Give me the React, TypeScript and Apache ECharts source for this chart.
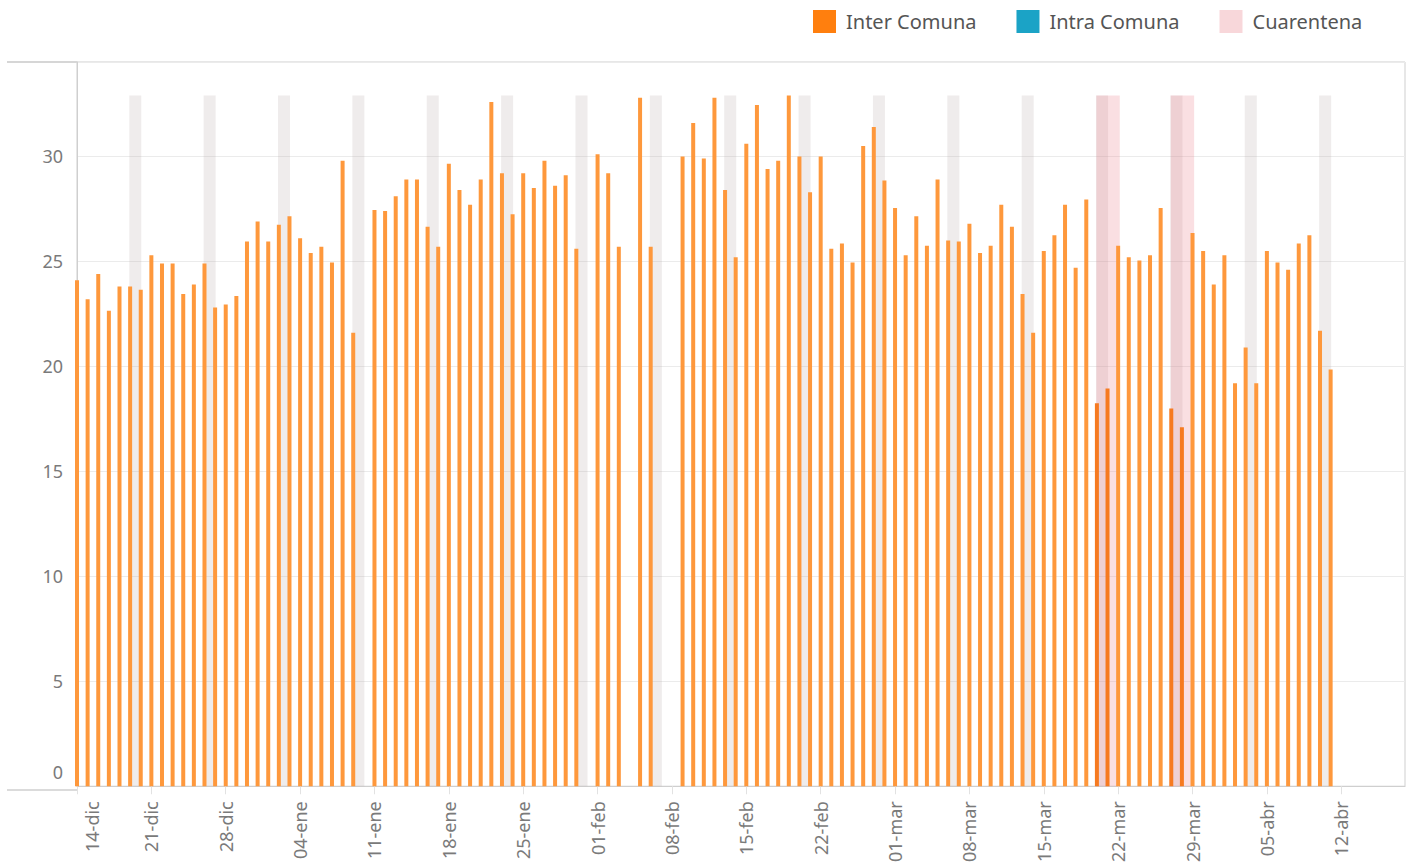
import React, { useEffect, useRef } from 'react';
import * as echarts from 'echarts';

// Week tick labels (every 7 days starting 14-dic, day index 0)
const tickLabels = ['14-dic', '21-dic', '28-dic', '04-ene', '11-ene', '18-ene', '25-ene', '01-feb', '08-feb', '15-feb', '22-feb', '01-mar', '08-mar', '15-mar', '22-mar', '29-mar', '05-abr', '12-abr'];

// Inter Comuna daily values, day index 0 = 14-dic (null = no data)
const interComuna: (number | null)[] = [
  24.1, 23.2, 24.4, 22.65, 23.8, 23.8, 23.65,
  25.3, 24.9, 24.9, 23.45, 23.9, 24.9, 22.8,
  22.95, 23.35, 25.95, 26.9, 25.95, 26.75, 27.15,
  26.1, 25.4, 25.7, 24.95, 29.8, 21.6, null,
  27.45, 27.4, 28.1, 28.9, 28.9, 26.65, 25.7,
  29.65, 28.4, 27.7, 28.9, 32.6, 29.2, 27.25,
  29.2, 28.5, 29.8, 28.6, 29.1, 25.6, null,
  30.1, 29.2, 25.7, null, 32.8, 25.7, null,
  null, 30.0, 31.6, 29.9, 32.8, 28.4, 25.2,
  30.6, 32.45, 29.4, 29.8, 32.9, 30.0, 28.3,
  30.0, 25.6, 25.85, 24.95, 30.5, 31.4, 28.85,
  27.55, 25.3, 27.15, 25.75, 28.9, 26.0, 25.95,
  26.8, 25.4, 25.75, 27.7, 26.65, 23.45, 21.6,
  25.5, 26.25, 27.7, 24.7, 27.95, 18.25, 18.95,
  25.75, 25.2, 25.05, 25.3, 27.55, 18.0, 17.1,
  26.35, 25.5, 23.9, 25.3, 19.2, 20.9, 19.2,
  25.5, 24.95, 24.6, 25.85, 26.25, 21.7, 19.85,
];

// Intra Comuna (no visible values)
const intraComuna: [number, number][] = [];

// Saturday day indices (weekend bands)
const weekendSaturdays = [5, 12, 19, 26, 33, 40, 47, 54, 61, 68, 75, 82, 89, 96, 103, 110, 117];

// Saturday day indices of quarantine weekends
const cuarentenaSaturdays = [96, 103];

const FONT = "'Noto Sans', sans-serif";
const LABEL_COLOR = '#7a7a7a';

export default function App() {
  const ref = useRef<HTMLDivElement>(null);

  useEffect(() => {
    if (!ref.current) return;
    const chart = echarts.init(ref.current, null, { renderer: 'svg' });

    const bandTop = Math.max(...(interComuna.filter((v) => v != null) as number[]));
    const inCuarentena = (i: number) => cuarentenaSaturdays.some((s) => i >= s && i <= s + 1);

    const barData = interComuna
      .map((v, i) => (v == null ? null : {
        value: [i, v],
        itemStyle: { color: inCuarentena(i) ? '#f67a20' : '#fe983c' },
      }))
      .filter((d) => d !== null);

    const weekendData = weekendSaturdays.map((s) => [s - 0.08, s + 1.05, bandTop]);
    const cuarentenaData = cuarentenaSaturdays.map((s) => [s - 0.05, s + 2.15, bandTop]);

    const bandRender = (fill: string) => (params: any, api: any) => {
      const a = api.coord([api.value(0), api.value(2)]);
      const b = api.coord([api.value(1), 0]);
      return {
        type: 'rect',
        shape: { x: a[0], y: a[1], width: b[0] - a[0], height: b[1] - a[1] },
        style: { fill },
      };
    };

    chart.setOption({
      animation: false,
      textStyle: { fontFamily: FONT },
      legend: {
        left: 813,
        top: 10,
        padding: 0,
        itemWidth: 23,
        itemHeight: 23,
        itemGap: 40,
        icon: 'rect',
        textStyle: { fontSize: 20, color: '#555', fontFamily: FONT, padding: [0, 0, 0, 5] },
        data: [
          { name: 'Inter Comuna', itemStyle: { color: '#ff7f0e' } },
          { name: 'Intra Comuna', itemStyle: { color: '#1ba3c6' } },
          { name: 'Cuarentena', itemStyle: { color: '#f8d7da' } },
        ],
        selectedMode: false,
      },
      grid: {
        left: 77,
        right: 5,
        top: 62,
        bottom: 75,
        show: true,
        borderColor: '#cfcfcf',
        borderWidth: 1,
      },
      xAxis: {
        type: 'value',
        min: 0,
        max: 125,
        interval: 7,
        axisLine: { show: true, lineStyle: { color: '#cfcfcf' } },
        axisTick: { show: true, length: 8, lineStyle: { color: '#e2e2e2' } },
        splitLine: { show: false },
        axisLabel: {
          rotate: 90,
          margin: 15,
          fontSize: 18,
          color: LABEL_COLOR,
          fontFamily: FONT,
          showMaxLabel: false,
          formatter: (v: number) => {
            const i = Math.round(v / 7);
            if (Math.abs(v - i * 7) > 1e-6 || i >= tickLabels.length) return '';
            return i === 0 ? `{f|${tickLabels[0]}}` : tickLabels[i];
          },
          rich: {
            f: { padding: [30, 0, 0, 0], fontSize: 18, color: LABEL_COLOR, fontFamily: FONT },
          },
        },
      },
      yAxis: {
        type: 'value',
        min: 0,
        max: 34.5,
        interval: 5,
        axisLine: { show: true, lineStyle: { color: '#cfcfcf' } },
        axisTick: { show: false },
        splitLine: { show: true, lineStyle: { color: '#ebebeb', width: 1 } },
        axisLabel: {
          margin: 14,
          fontSize: 18,
          color: LABEL_COLOR,
          fontFamily: FONT,
          showMaxLabel: false,
          formatter: (v: number) => {
            if (v === 0) return '{z|0}';
            if (v % 5 !== 0 || v > 30) return '';
            return String(v);
          },
          rich: {
            z: { padding: [0, 0, 28, 0], fontSize: 18, color: LABEL_COLOR, fontFamily: FONT },
          },
        },
      },
      series: [
        {
          name: 'weekend',
          type: 'custom',
          z: 1,
          silent: true,
          encode: { x: [0, 1], y: 2 },
          data: weekendData,
          renderItem: bandRender('rgba(180,170,170,0.22)'),
        },
        {
          name: 'Cuarentena',
          type: 'custom',
          z: 1,
          silent: true,
          itemStyle: { color: '#f8d7da' },
          encode: { x: [0, 1], y: 2 },
          data: cuarentenaData,
          renderItem: bandRender('rgba(235,120,135,0.24)'),
        },
        {
          name: 'Inter Comuna',
          type: 'bar',
          stack: 'total',
          barWidth: 4,
          z: 3,
          itemStyle: { color: '#fe983c' },
          data: barData,
        },
        {
          name: 'Intra Comuna',
          type: 'bar',
          stack: 'total',
          barWidth: 4,
          z: 3,
          itemStyle: { color: '#1ba3c6' },
          data: intraComuna,
        },
      ],
      graphic: [
        { type: 'line', shape: { x1: 7, y1: 62, x2: 77, y2: 62 }, style: { stroke: '#d6d6d6', lineWidth: 2 }, silent: true },
        { type: 'line', shape: { x1: 7, y1: 790, x2: 77, y2: 790 }, style: { stroke: '#cfcfcf', lineWidth: 1.5 }, silent: true },
      ],
    });

    return () => chart.dispose();
  }, []);

  return (
    <div
      ref={ref}
      style={{ position: 'fixed', left: 0, top: 0, width: 1410, height: 865, background: '#fff' }}
    />
  );
}
